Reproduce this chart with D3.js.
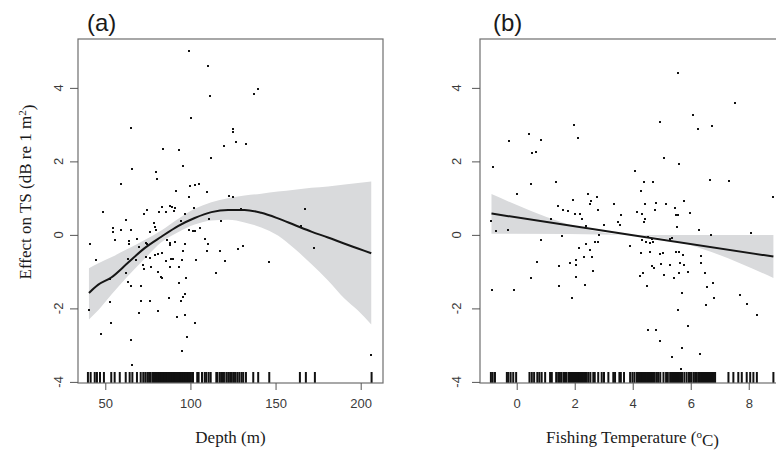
<!DOCTYPE html>
<html>
<head>
<meta charset="utf-8">
<script src="https://cdnjs.cloudflare.com/ajax/libs/d3/7.8.5/d3.min.js"></script>
<style>
  body { margin: 0; background: #fff; overflow: hidden; }
  svg { display: block; }
</style>
</head>
<body>
<div id="chart"></div>
<script>
// #####################################################
// Data
//
var yTicks = [-4, -2, 0, 2, 4];
var depthTicks = [50, 100, 150, 200];
var tempTicks = [0, 2, 4, 6, 8];

// (a) partial residuals for depth
var depthX = [99.2, 110.3, 111.5, 137.1, 139.9, 100.1, 65.3, 125.2, 125.2, 126.6, 132.4, 119.5, 83.9, 93.1, 112.1, 95.8, 65.5, 80.0, 80.6, 59.0,
  99.5, 102.7, 105.2, 91.7, 109.5, 99.2, 122.8, 125.2, 48.7, 74.7, 72.7, 83.1, 88.0, 89.2, 90.9, 81.3, 85.8, 90.1, 96.6, 101.9,
  129.5, 167.5, 62.2, 78.6, 54.7, 54.7, 59.0, 65.3, 79.4, 76.1, 79.6, 111.1, 118.1, 105.4, 101.7, 102.9, 99.2, 94.3, 164.7, 40.8,
  55.7, 63.9, 63.9, 68.8, 74.1, 74.3, 69.8, 86.4, 88.0, 87.8, 90.9, 97.0, 108.4, 110.3, 130.7, 127.9, 172.7, 44.7, 63.3, 68.2,
  73.7, 76.4, 83.5, 79.0, 80.8, 85.8, 88.8, 90.0, 94.8, 95.8, 103.5, 109.7, 117.2, 120.3, 146.1, 71.9, 72.7, 76.6, 88.2, 93.5,
  62.4, 81.0, 82.5, 83.1, 97.6, 115.2, 53.0, 63.1, 65.3, 70.8, 93.3, 87.4, 95.8, 97.0, 71.2, 76.4, 53.0, 94.3, 40.4, 81.1,
  69.6, 91.9, 97.0, 53.5, 102.5, 47.3, 65.3, 98.2, 95.0, 65.7, 206.2];
var depthY = [5.00, 4.59, 3.77, 3.82, 3.96, 3.17, 2.92, 2.88, 2.81, 2.54, 2.48, 2.41, 2.34, 2.31, 2.08, 1.88, 1.80, 1.72, 1.53, 1.38,
  1.34, 1.37, 1.38, 1.20, 1.17, 1.03, 1.06, 1.02, 0.61, 0.69, 0.57, 0.75, 0.79, 0.77, 0.72, 0.63, 0.61, 0.64, 0.58, 0.73,
  0.71, 0.70, 0.41, 0.33, 0.20, 0.09, 0.13, 0.13, 0.22, 0.09, 0.12, 0.43, 0.37, 0.20, 0.10, 0.11, 0.13, 0.39, 0.23, -0.26,
  -0.14, -0.17, -0.26, -0.11, -0.22, -0.26, -0.33, -0.15, -0.23, -0.28, -0.19, -0.25, -0.11, -0.26, -0.30, -0.38, -0.37, -0.67, -0.65, -0.69,
  -0.60, -0.64, -0.50, -0.54, -0.53, -0.70, -0.65, -0.66, -0.69, -0.44, -0.67, -0.44, -0.43, -0.71, -0.74, -0.83, -0.92, -0.88, -0.88, -0.87,
  -1.03, -1.02, -1.14, -1.17, -1.16, -1.03, -1.19, -1.28, -1.38, -1.39, -1.32, -1.73, -1.68, -1.62, -1.79, -1.79, -1.82, -1.80, -2.04, -2.06,
  -2.13, -2.24, -2.18, -2.41, -2.40, -2.70, -2.85, -2.77, -3.15, -3.54, -3.26];
var depthRug = [39.8, 41.4, 43.8, 45.1, 46.9, 49.2, 53.5, 55.5, 58.5, 62.0, 64.3, 65.9, 68.6, 70.8, 72.3, 73.5, 74.7, 75.7, 76.7,
  78.0, 78.3, 78.6, 79.0, 79.4, 79.7, 80.0, 80.4, 80.8, 81.3, 81.7, 82.1, 82.5, 82.9, 83.1, 83.5, 83.9, 84.2, 84.6, 85.0, 85.4,
  85.8, 86.1, 86.4, 86.7, 87.0, 87.4, 87.8, 88.0, 88.4, 88.8, 89.2, 89.5, 89.8, 90.1, 90.5, 90.9, 91.2, 91.5, 91.9, 92.3,
  92.7, 93.1, 93.3, 93.6, 94.0, 94.3, 94.8, 95.0, 95.4, 95.8, 96.1, 96.6, 96.8, 97.0, 97.3, 97.6, 98.2, 98.6, 99.0, 99.2,
  99.6, 100.1, 100.3, 101.5, 104.0, 104.8, 106.8, 108.4, 109.3, 110.7, 111.9,
  115.2, 115.8, 117.2, 118.1, 119.0, 119.7, 121.1, 122.2, 123.3, 124.2, 125.2, 126.2, 127.5, 128.7, 130.0, 131.0, 132.6, 136.9,
  139.8, 146.3, 164.3, 167.8, 173.1, 206.4];
// (a) smooth and its band
var depthGrid = [40.4, 45.7, 53.5, 63.3, 73.1, 82.9, 92.7, 102.5, 112.3, 122.1, 131.8, 141.6, 151.4, 161.2, 171.0, 180.8, 190.6, 198.4, 206.2];
var depthFit = [-1.58, -1.36, -1.16, -0.76, -0.36, -0.05, 0.24, 0.46, 0.62, 0.68, 0.68, 0.60, 0.45, 0.27, 0.09, -0.07, -0.24, -0.37, -0.50];
var depthUpper = [-0.91, -0.78, -0.61, -0.38, -0.14, 0.12, 0.43, 0.71, 0.89, 1.00, 1.07, 1.12, 1.18, 1.23, 1.28, 1.32, 1.37, 1.41, 1.45];
var depthLower = [-2.30, -2.06, -1.63, -1.12, -0.65, -0.20, 0.07, 0.28, 0.39, 0.41, 0.34, 0.20, -0.02, -0.38, -0.79, -1.24, -1.74, -2.06, -2.44];

// (b) partial residuals for fishing temperature
var tempX = [5.57, 7.52, 6.07, 4.95, 6.24, 6.72, 1.99, 2.10, 0.43, 0.85, -0.25, 0.54, 0.68, 5.07, 5.58, -0.83, 4.09, 4.39, 4.71, 6.65,
  7.31, 0.49, 1.35, 0.00, 2.47, 2.78, 2.56, 1.93, 5.76, 8.85, 3.34, 4.30, 4.42, 4.79, 5.15, 1.41, 1.61, 1.76, 2.01, 2.17,
  2.54, 2.80, 2.24, 1.18, 3.60, 4.15, 4.33, 4.76, 5.46, 5.50, 5.55, 5.99, 3.50, 3.56, 4.38, 4.43, 3.00, 2.38, -0.89, -0.73,
  -0.31, 5.53, 6.27, 8.08, 6.71, 2.84, 1.55, 0.83, 4.54, 4.65, 4.32, 4.45, 4.58, 4.69, 5.27, 5.35, 2.69, 2.81, 2.39, 2.16,
  2.54, 3.92, 4.30, 4.60, 4.93, 5.06, 5.50, 5.61, 5.75, 6.37, 2.31, 2.61, 2.03, 0.69, 1.84, 2.04, 1.46, 4.68, 4.72, 4.96,
  5.29, 5.64, 5.77, 6.37, 2.63, 4.35, 4.25, 5.09, 5.43, 5.61, 5.91, 6.50, 0.50, 2.04, 1.45, 2.34, 4.50, 6.76, 6.57, -0.84,
  -0.10, 5.70, 1.89, 6.81, 7.70, 6.53, 7.93, 5.55, 8.27, 5.91, 4.54, 4.79, 4.94, 5.69, 6.33, 5.37, 5.65];
var tempY = [4.41, 3.60, 3.27, 3.08, 2.89, 2.97, 3.00, 2.64, 2.75, 2.58, 2.56, 2.24, 2.25, 2.10, 1.94, 1.86, 1.73, 1.43, 1.45, 1.48,
  1.47, 1.39, 1.43, 1.12, 1.12, 1.02, 0.92, 0.94, 0.93, 1.03, 0.83, 1.19, 0.85, 0.87, 0.83, 0.78, 0.68, 0.64, 0.57, 0.58,
  0.83, 0.67, 0.43, 0.43, 0.53, 0.61, 0.57, 0.67, 0.72, 0.54, 0.53, 0.60, 0.34, 0.28, 0.34, 0.43, 0.27, 0.23, 0.39, 0.10,
  0.13, 0.21, 0.14, 0.04, -0.01, 0.01, -0.02, -0.13, -0.05, -0.11, -0.15, -0.20, -0.21, -0.20, -0.11, -0.09, -0.20, -0.20, -0.25, -0.36,
  -0.40, -0.31, -0.50, -0.47, -0.53, -0.50, -0.46, -0.47, -0.55, -0.57, -0.61, -0.61, -0.67, -0.73, -0.77, -0.83, -0.86, -0.85, -0.90, -0.79,
  -0.83, -0.77, -0.82, -0.77, -0.97, -1.04, -1.11, -1.08, -1.17, -1.04, -1.02, -1.04, -1.17, -1.15, -1.38, -1.35, -1.40, -1.32, -1.42, -1.51,
  -1.51, -1.58, -1.73, -1.72, -1.64, -1.91, -1.88, -2.04, -2.19, -2.47, -2.59, -2.59, -2.88, -3.08, -3.23, -3.33, -3.66];
var tempRug = [-0.89, -0.83, -0.75, -0.34, -0.29, -0.21, -0.12, -0.02, 0.44, 0.52, 0.60, 0.71, 0.78, 0.86, 0.98, 1.15, 1.21,
  1.36, 1.43, 1.49, 1.55, 1.63, 1.70, 1.78, 1.81, 1.84, 1.89, 1.93, 1.96, 1.99, 2.01, 2.04, 2.07, 2.10, 2.13, 2.16, 2.17, 2.21,
  2.24, 2.28, 2.31, 2.34, 2.36, 2.39, 2.41,
  2.47, 2.54, 2.64, 2.69, 2.81, 2.93, 3.01, 3.16, 3.33, 3.39, 3.54, 3.59, 3.70, 3.91, 3.99, 4.06, 4.14, 4.17, 4.21, 4.25, 4.28,
  4.30, 4.33, 4.35, 4.38, 4.42, 4.45, 4.48, 4.50, 4.54, 4.58, 4.60, 4.65, 4.68, 4.69, 4.72, 4.76, 4.83, 4.88, 4.95, 5.06,
  5.15, 5.21, 5.29, 5.32, 5.35, 5.37, 5.40, 5.43, 5.46, 5.50, 5.53, 5.55, 5.58, 5.61, 5.65, 5.67, 5.70, 5.78, 5.86, 5.94,
  6.01, 6.09, 6.15, 6.21, 6.27, 6.30, 6.33, 6.37, 6.41, 6.44, 6.48, 6.50, 6.53, 6.57, 6.61, 6.65, 6.68, 6.71, 6.76, 6.80,
  6.84, 7.30, 7.47, 7.64, 7.76, 7.93, 8.05, 8.16, 8.28, 8.85];
// (b) linear term and its band
var tempGrid = [-0.87, 3.95, 8.85];
var tempFit = [0.58, 0.0, -0.59];
var tempUpper = [1.11, 0.0, 0.0];
var tempLower = [0.03, 0.0, -1.17];

// #####################################################
// Draw one panel
//
function plot_panel (svg, p) {
  var width = 305, height = 344;

  var g = svg.append("g")
      .attr("transform", "translate(" + p.left + "," + 39 + ")");

  var x = d3.scaleLinear().domain(p.xDomain).range([0, width]);
  var y = d3.scaleLinear().domain([-4.03, 5.33]).range([height, 0]);

  var pts = p.xs.map(function (d, i) { return {x: d, y: p.ys[i]}; });
  var band = p.grid.map(function (d, i) {
    return {x: d, fit: p.fit[i], lo: p.lower[i], hi: p.upper[i]};
  });

  // shaded band
  g.append("path")
      .datum(band)
      .attr("fill", "#d9dadc")
      .attr("d", d3.area()
        .x(function (d) { return x(d.x); })
        .y0(function (d) { return y(d.lo); })
        .y1(function (d) { return y(d.hi); })
        .curve(d3.curveMonotoneX));

  // residuals
  g.selectAll("rect.pt")
      .data(pts)
      .enter().append("rect")
        .attr("class", "pt")
        .attr("x", function (d) { return Math.round(x(d.x)) - 1; })
        .attr("y", function (d) { return Math.round(y(d.y)) - 1; })
        .attr("width", 2)
        .attr("height", 2)
        .style("fill", "#111");

  // smooth
  g.append("path")
      .datum(band)
      .attr("fill", "none")
      .attr("stroke", "#161616")
      .attr("stroke-width", 2)
      .attr("d", d3.line()
        .x(function (d) { return x(d.x); })
        .y(function (d) { return y(d.fit); })
        .curve(d3.curveMonotoneX));

  // rug
  g.selectAll("line.rug")
      .data(p.rug)
      .enter().append("line")
        .attr("class", "rug")
        .attr("x1", function (d) { return x(d); })
        .attr("x2", function (d) { return x(d); })
        .attr("y1", height)
        .attr("y2", height - 11)
        .attr("stroke", "#111")
        .attr("stroke-width", 2);

  // box
  g.append("rect")
      .attr("x", 0).attr("y", 0)
      .attr("width", width).attr("height", height)
      .attr("fill", "none")
      .attr("stroke", "#6e6e6e")
      .attr("stroke-width", 1.2);

  // X axis
  var xAxis = g.append("g")
      .attr("transform", "translate(0," + height + ")")
      .call(d3.axisBottom(x).tickValues(p.xTicks).tickSize(7).tickPadding(9).tickFormat(d3.format("d")));
  xAxis.select(".domain").remove();
  xAxis.selectAll("line").attr("stroke", "#555");
  xAxis.selectAll("text")
      .style("font-family", "'Liberation Sans', Arial, sans-serif")
      .style("font-size", "13px")
      .attr("fill", "#3a3a3a");

  // Y axis, labels turned like in R
  var yAxis = g.append("g")
      .call(d3.axisLeft(y).tickValues(yTicks).tickSize(8).tickFormat(""));
  yAxis.select(".domain").remove();
  yAxis.selectAll("line").attr("stroke", "#555");
  g.selectAll("text.ylab")
      .data(yTicks)
      .enter().append("text")
        .attr("class", "ylab")
        .attr("transform", function (d) {
          return "translate(" + (-p.yLabOffset) + "," + y(d) + ") rotate(-90)";
        })
        .attr("text-anchor", "middle")
        .attr("dy", "0.35em")
        .style("font-family", "'Liberation Sans', Arial, sans-serif")
        .style("font-size", "13px")
        .attr("fill", "#3a3a3a")
        .text(function (d) { return d; });

  // panel letter
  svg.append("text")
      .attr("x", p.left + p.letterDx)
      .attr("y", 31)
      .style("font-family", "'Liberation Sans', Arial, sans-serif")
      .style("font-size", "24px")
      .attr("fill", "#1a1a1a")
      .text(p.letter);

  // x title
  var xt = svg.append("text")
      .attr("x", p.left + width / 2)
      .attr("y", 443)
      .attr("text-anchor", "middle")
      .style("font-family", "'Liberation Serif', 'Times New Roman', serif")
      .style("font-size", "17px")
      .attr("fill", "#1a1a1a");
  xt.append("tspan").text(p.xTitle[0]);
  if (p.xTitle.length > 1) {
    xt.append("tspan").attr("dy", "-0.45em").style("font-size", "11px").text(p.xTitle[1]);
    xt.append("tspan").attr("dy", "0.45em").text(p.xTitle[2]);
  }

  return g;
};

var svg = d3.select("#chart").append("svg")
    .attr("width", 776)
    .attr("height", 450);

plot_panel(svg, {
  left: 78, letter: "(a)", letterDx: 9, yLabOffset: 20,
  xDomain: [33.97, 213.1], xTicks: depthTicks,
  xs: depthX, ys: depthY, rug: depthRug,
  grid: depthGrid, fit: depthFit, upper: depthUpper, lower: depthLower,
  xTitle: ["Depth (m)"]
});

plot_panel(svg, {
  left: 480, letter: "(b)", letterDx: 13, yLabOffset: 24,
  xDomain: [-1.266, 9.25], xTicks: tempTicks,
  xs: tempX, ys: tempY, rug: tempRug,
  grid: tempGrid, fit: tempFit, upper: tempUpper, lower: tempLower,
  xTitle: ["Fishing Temperature (", "o", "C)"]
});

// y title (panel a only)
var yt = svg.append("text")
    .attr("transform", "translate(31," + 192 + ") rotate(-90)")
    .attr("text-anchor", "middle")
    .style("font-family", "'Liberation Serif', 'Times New Roman', serif")
    .style("font-size", "17px")
    .attr("fill", "#1a1a1a");
yt.append("tspan").text("Effect on TS (dB re 1 m");
yt.append("tspan").attr("dy", "-0.45em").style("font-size", "11px").text("2");
yt.append("tspan").attr("dy", "0.45em").text(")");
</script>
</body>
</html>
